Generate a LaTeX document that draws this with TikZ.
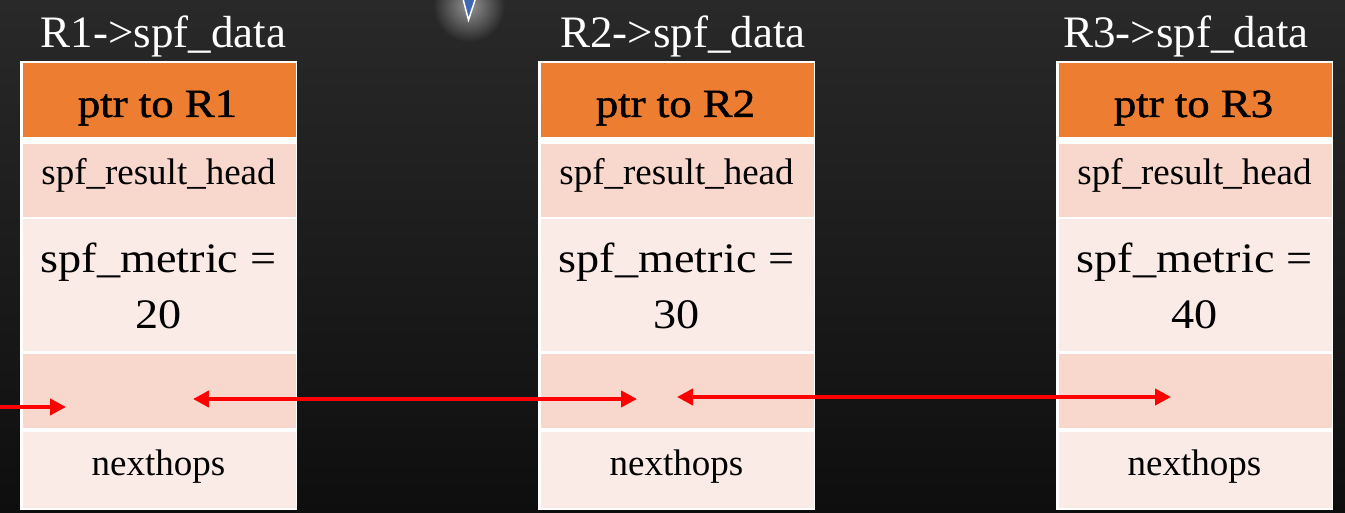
\documentclass[tikz,border=0pt]{standalone}
\usepackage{fontspec}
\usepackage{graphicx}
\setmainfont{Liberation Serif}
\newfontfamily\hdrfont{Liberation Serif}[FakeBold=1.2]
\usetikzlibrary{arrows.meta,fadings}

\definecolor{bgtop}{HTML}{292929}
\definecolor{bgbot}{HTML}{0E0E0E}
\definecolor{hdrorange}{HTML}{ED7D31}
\definecolor{banddark}{HTML}{F8D7CD}
\definecolor{bandlight}{HTML}{FBEBE7}
\definecolor{linkred}{HTML}{FF0000}
\definecolor{markblue}{HTML}{3F67B1}

\tikzfading[name=softglow, inner color=transparent!50, outer color=transparent!100]

\tikzset{
  frame/.style={fill=white, draw=none, inner sep=0pt, outer sep=0pt, anchor=north west},
  cellbox/.style={draw=none, inner sep=0pt, outer sep=0pt, anchor=north west, minimum width=273pt},
  title/.style={anchor=base, inner sep=0pt, text=white, font=\fontsize{45}{50}\selectfont},
  hdrtext/.style={anchor=base, inner sep=0pt, text=black, font=\hdrfont\fontsize{40}{44}\selectfont},
  restext/.style={anchor=base, inner sep=0pt, text=black, font=\fontsize{37}{42}\selectfont},
  mettext/.style={anchor=base, inner sep=0pt, text=black, font=\fontsize{42}{46}\selectfont},
  nhtext/.style={anchor=base, inner sep=0pt, text=black, font=\fontsize{37}{40}\selectfont},
  link/.style={draw=linkred, line width=4pt, >={Triangle[length=16pt,width=16pt]}}
}

\begin{document}
\begin{tikzpicture}[x=1pt,y=-1pt]
  \useasboundingbox (0,0) rectangle (1345,513);
  % backdrop
  \shade[top color=bgtop, bottom color=bgbot] (0,0) rectangle (1345,513);

  % tip of a pointer with its soft halo
  \fill[white, path fading=softglow] (469,6) circle[radius=36pt];
  \filldraw[fill=markblue, draw=white, line width=1.5pt, line join=miter]
    (462.5,-3) -- (476,-3) -- (468.5,20) -- cycle;

  % one spf_data record per router
  \foreach \i/\x/\m/\tx in {1/20/20/163.5, 2/538/30/683, 3/1056/40/1186} {
    \node[frame, minimum width=277.5pt, minimum height=448.5pt] (f\i) at ({\x-0.5},61) {};
    \node[cellbox, fill=hdrorange, minimum height=74pt]  (h\i) at ({\x+2.5},63) {};
    \node[cellbox, fill=banddark,  minimum height=73pt]  (r\i) at ({\x+2.5},144) {};
    \node[cellbox, fill=bandlight, minimum height=131.5pt] (m\i) at ({\x+2.5},219.5) {};
    \node[cellbox, fill=banddark,  minimum height=74pt]  (l\i) at ({\x+2.5},354) {};
    \node[cellbox, fill=bandlight, minimum height=76pt]  (n\i) at ({\x+2.5},431.5) {};

    \node[title] (tt\i) at (\tx,48) {R\i->spf\_data};
    \node[hdrtext] (ht\i) at ({\x+137.5},117) {\scalebox{1.12}[1]{ptr to R\i}};
    \node[restext] (rt\i) at ({\x+138.5},185) {spf\_result\_head};
    \node[mettext] (mt\i) at ({\x+138.5},273) {\scalebox{1.1}[1]{spf\_metric =}};
    \node[mettext] (mv\i) at ({\x+138.5},328) {\scalebox{1.1}[1]{\m}};
    \node[nhtext] (nt\i) at ({\x+138.5},475) {nexthops};
  }

  % ends of the next-hop links
  \coordinate (src) at (0,407);
  \coordinate (in1) at (66,407);
  \coordinate (out1) at (193,399);
  \coordinate (in2) at (637,399);
  \coordinate (out2) at (677,397);
  \coordinate (in3) at (1171,397);

  \draw[link, ->] (src) -- (in1);
  \draw[link, <->] (out1) -- (in2);
  \draw[link, <->] (out2) -- (in3);
\end{tikzpicture}
\end{document}
